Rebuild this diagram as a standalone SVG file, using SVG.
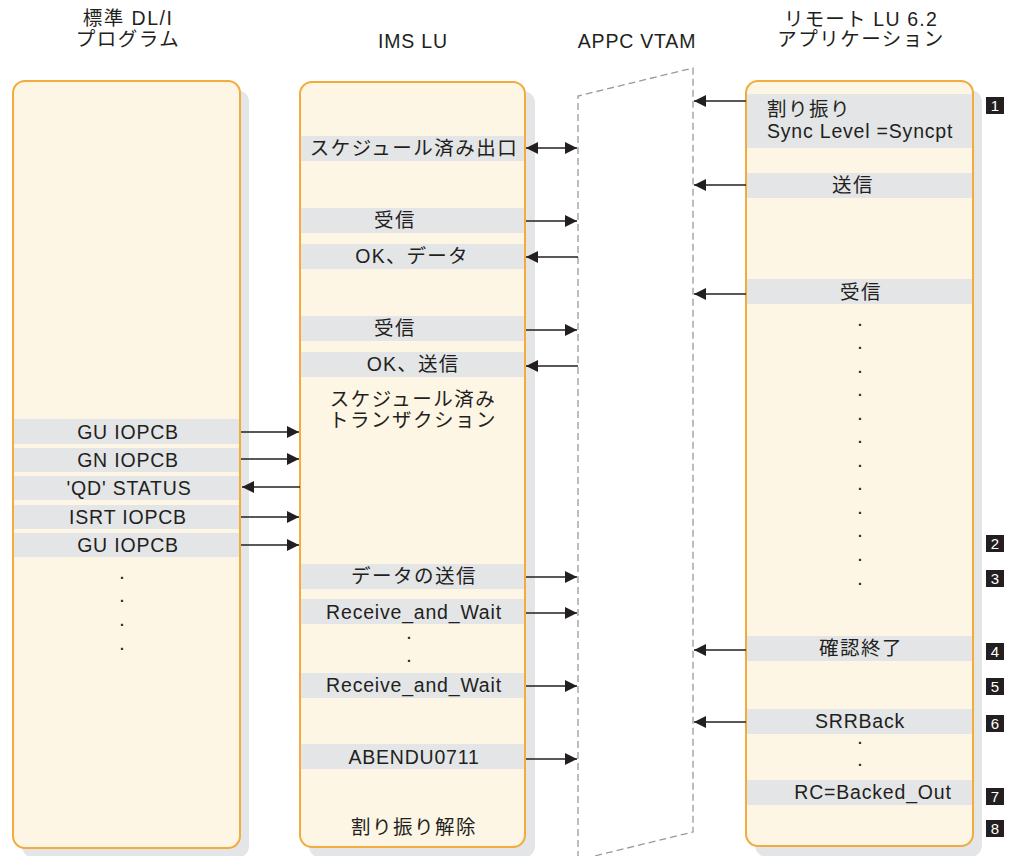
<svg xmlns="http://www.w3.org/2000/svg" width="1013" height="856" viewBox="0 0 1013 856">
<style>
text{font-family:"Liberation Sans","Noto Sans CJK JP",sans-serif;font-size:19.5px;fill:#231f20;letter-spacing:0.8px}
.c{text-anchor:middle}
.j{letter-spacing:1.5px}
.m{letter-spacing:1.2px}
.box{fill:#fdf6e4}
.bd{fill:none;stroke:#f2ab3c;stroke-width:2}
.sh{fill:#e4e5e7}
.band{fill:#e4e5e7}
.ar{stroke:#231f20;stroke-width:1.5;fill:none}
.vt{fill:none;stroke:#9a9a9a;stroke-width:1.3;stroke-dasharray:7,4}
.bg{fill:#231f20}
.bn{fill:#ffffff;font-size:15px;text-anchor:middle;letter-spacing:0}
.dot{text-anchor:middle;letter-spacing:0;font-size:14px;font-weight:bold}
</style>
<defs>
<marker id="ah" markerUnits="userSpaceOnUse" markerWidth="13" markerHeight="13" refX="12" refY="6" orient="auto-start-reverse">
<path d="M0,0 L12,6 L0,12 z" fill="#231f20"/>
</marker>
</defs>

<g id="headers">
<text class="c j" x="128" y="25">標準 DL/I</text>
<text class="c j" x="128" y="46">プログラム</text>
<text class="c" x="413" y="48">IMS LU</text>
<text class="c" x="637" y="48">APPC VTAM</text>
<text class="c m" x="861" y="26">リモート LU 6.2</text>
<text class="c j" x="861" y="46">アプリケーション</text>
</g>

<g id="vtam">
<path class="vt" d="M578,858 L578,96 L693,68 L693,832 L578,860"/>
</g>

<g id="dlI-program">
<rect class="sh" x="22" y="90" width="227" height="768" rx="12"/>
<rect class="box" x="13" y="81" width="227" height="767" rx="12"/>
<rect class="band" x="14" y="419" width="225" height="25"/>
<rect class="band" x="14" y="448" width="225" height="24"/>
<rect class="band" x="14" y="476" width="225" height="24"/>
<rect class="band" x="14" y="505" width="225" height="24"/>
<rect class="band" x="14" y="533" width="225" height="24"/>
<rect class="bd" x="13" y="81" width="227" height="767" rx="12"/>
<text class="c" x="128" y="439">GU IOPCB</text>
<text class="c" x="128" y="467">GN IOPCB</text>
<text class="c" x="129" y="495">'QD' STATUS</text>
<text class="c" x="128" y="524">ISRT IOPCB</text>
<text class="c" x="128" y="552">GU IOPCB</text>
<text class="dot" x="122" y="579">.</text>
<text class="dot" x="122" y="602">.</text>
<text class="dot" x="122" y="626">.</text>
<text class="dot" x="122" y="650">.</text>
</g>

<g id="ims-lu">
<rect class="sh" x="309" y="91" width="226" height="767" rx="12"/>
<rect class="box" x="300" y="82" width="225" height="765" rx="12"/>
<rect class="band" x="301" y="136" width="223" height="25"/>
<rect class="band" x="301" y="208" width="223" height="25"/>
<rect class="band" x="301" y="244" width="223" height="25"/>
<rect class="band" x="301" y="316" width="223" height="25"/>
<rect class="band" x="301" y="352" width="223" height="25"/>
<rect class="band" x="301" y="564" width="223" height="25"/>
<rect class="band" x="301" y="599" width="223" height="25"/>
<rect class="band" x="301" y="673" width="223" height="25"/>
<rect class="band" x="301" y="744" width="223" height="25"/>
<rect class="bd" x="300" y="82" width="225" height="765" rx="12"/>
<text class="c j" x="414" y="155">スケジュール済み出口</text>
<text class="c j" x="395" y="227">受信</text>
<text class="c m" x="412" y="263">OK、データ</text>
<text class="c j" x="395" y="335">受信</text>
<text class="c m" x="413" y="371">OK、送信</text>
<text class="c j" x="413" y="406">スケジュール済み</text>
<text class="c j" x="413" y="427">トランザクション</text>
<text class="c j" x="414" y="583">データの送信</text>
<text class="c" x="414" y="619">Receive_and_Wait</text>
<text class="dot" x="409" y="639">.</text>
<text class="dot" x="409" y="662">.</text>
<text class="c" x="414" y="692">Receive_and_Wait</text>
<text class="c" x="414" y="764">ABENDU0711</text>
<text class="c j" x="414" y="834">割り振り解除</text>
</g>

<g id="remote-lu62">
<rect class="sh" x="755" y="90" width="227" height="767" rx="12"/>
<rect class="box" x="746" y="81" width="227" height="765" rx="12"/>
<rect class="band" x="747" y="94" width="225" height="54"/>
<rect class="band" x="747" y="173" width="225" height="25"/>
<rect class="band" x="747" y="279" width="225" height="25"/>
<rect class="band" x="747" y="636" width="225" height="25"/>
<rect class="band" x="747" y="709" width="225" height="25"/>
<rect class="band" x="747" y="780" width="225" height="25"/>
<rect class="bd" x="746" y="81" width="227" height="765" rx="12"/>
<text class="j" x="767" y="116">割り振り</text>
<text x="767" y="138">Sync Level =Syncpt</text>
<text class="c j" x="853" y="192">送信</text>
<text class="c j" x="861" y="299">受信</text>
<text class="dot" x="860" y="326">.</text>
<text class="dot" x="860" y="349">.</text>
<text class="dot" x="860" y="373">.</text>
<text class="dot" x="860" y="396">.</text>
<text class="dot" x="860" y="420">.</text>
<text class="dot" x="860" y="443">.</text>
<text class="dot" x="860" y="467">.</text>
<text class="dot" x="860" y="490">.</text>
<text class="dot" x="860" y="514">.</text>
<text class="dot" x="860" y="537">.</text>
<text class="dot" x="860" y="561">.</text>
<text class="dot" x="860" y="585">.</text>
<text class="c j" x="861" y="655">確認終了</text>
<text class="c" x="860" y="728">SRRBack</text>
<text class="dot" x="860" y="744">.</text>
<text class="dot" x="860" y="766">.</text>
<text class="c" x="873" y="799">RC=Backed_Out</text>
</g>

<g id="connectors">
<line class="ar" x1="241" y1="432" x2="299" y2="432" marker-end="url(#ah)"/>
<line class="ar" x1="241" y1="459" x2="299" y2="459" marker-end="url(#ah)"/>
<line class="ar" x1="300" y1="487" x2="242" y2="487" marker-end="url(#ah)"/>
<line class="ar" x1="241" y1="517" x2="299" y2="517" marker-end="url(#ah)"/>
<line class="ar" x1="241" y1="545" x2="299" y2="545" marker-end="url(#ah)"/>

<line class="ar" x1="526" y1="148" x2="577" y2="148" marker-start="url(#ah)" marker-end="url(#ah)"/>
<line class="ar" x1="526" y1="221" x2="577" y2="221" marker-end="url(#ah)"/>
<line class="ar" x1="578" y1="257" x2="526" y2="257" marker-end="url(#ah)"/>
<line class="ar" x1="526" y1="330" x2="577" y2="330" marker-end="url(#ah)"/>
<line class="ar" x1="578" y1="366" x2="526" y2="366" marker-end="url(#ah)"/>
<line class="ar" x1="526" y1="577" x2="577" y2="577" marker-end="url(#ah)"/>
<line class="ar" x1="526" y1="613" x2="577" y2="613" marker-end="url(#ah)"/>
<line class="ar" x1="526" y1="686" x2="577" y2="686" marker-end="url(#ah)"/>
<line class="ar" x1="526" y1="759" x2="577" y2="759" marker-end="url(#ah)"/>

<line class="ar" x1="746" y1="101" x2="694" y2="101" marker-end="url(#ah)"/>
<line class="ar" x1="746" y1="185" x2="694" y2="185" marker-end="url(#ah)"/>
<line class="ar" x1="746" y1="294" x2="694" y2="294" marker-end="url(#ah)"/>
<line class="ar" x1="746" y1="650" x2="694" y2="650" marker-end="url(#ah)"/>
<line class="ar" x1="746" y1="722" x2="694" y2="722" marker-end="url(#ah)"/>
</g>

<g id="badges">
<rect class="bg" x="986" y="97" width="18" height="17"/><text class="bn" x="995" y="111">1</text>
<rect class="bg" x="986" y="535" width="18" height="17"/><text class="bn" x="995" y="549">2</text>
<rect class="bg" x="986" y="570" width="18" height="17"/><text class="bn" x="995" y="584">3</text>
<rect class="bg" x="986" y="643" width="18" height="17"/><text class="bn" x="995" y="657">4</text>
<rect class="bg" x="986" y="678" width="18" height="17"/><text class="bn" x="995" y="692">5</text>
<rect class="bg" x="986" y="715" width="18" height="17"/><text class="bn" x="995" y="729">6</text>
<rect class="bg" x="986" y="788" width="18" height="17"/><text class="bn" x="995" y="802">7</text>
<rect class="bg" x="986" y="820" width="18" height="17"/><text class="bn" x="995" y="834">8</text>
</g>
</svg>
